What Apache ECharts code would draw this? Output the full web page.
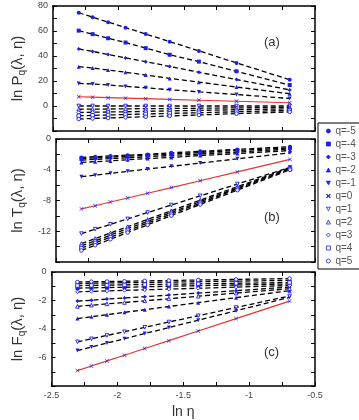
<!DOCTYPE html>
<html>
<head>
<meta charset="utf-8">
<script src="https://cdn.jsdelivr.net/npm/echarts@6/dist/echarts.min.js"></script>
<style>
  html, body { margin: 0; padding: 0; background: #fff; }
  #chart { width: 359px; height: 420px; }
</style>
</head>
<body>
<div id="chart"></div>
<script>
// ln(eta) sample points
const lnEta = [-2.303, -2.197, -2.079, -1.946, -1.792, -1.609, -1.386, -1.099, -0.693];
const qNames = ['q=-5', 'q=-4', 'q=-3', 'q=-2', 'q=-1', 'q=0', 'q=1', 'q=2', 'q=3', 'q=4', 'q=5'];

// panel (a): ln P_q, rows in q order -5..5
const lnP = [
  [74.6, 71.1, 67.1, 62.7, 57.6, 51.5, 44.1, 34.5, 21.0],
  [60.3, 57.5, 54.2, 50.8, 46.3, 41.0, 35.5, 27.8, 16.8],
  [45.6, 43.7, 41.2, 38.5, 35.5, 31.6, 27.0, 21.2, 12.9],
  [31.5, 30.4, 28.8, 27.0, 24.8, 22.1, 19.1, 15.2, 9.8],
  [18.1, 17.6, 16.8, 15.7, 14.6, 13.0, 11.3, 9.2, 6.0],
  [7.4, 7.1, 6.7, 6.3, 5.9, 5.3, 4.6, 3.8, 2.6],
  [0.0, 0.0, 0.0, 0.0, 0.0, 0.0, 0.0, 0.0, 0.0],
  [-2.6, -2.5, -2.4, -2.3, -2.1, -2.0, -1.8, -1.5, -1.1],
  [-5.2, -5.0, -4.8, -4.6, -4.3, -3.9, -3.5, -3.0, -2.3],
  [-7.8, -7.5, -7.2, -6.8, -6.4, -5.9, -5.4, -4.6, -3.5],
  [-10.4, -10.0, -9.6, -9.1, -8.6, -7.9, -7.2, -6.1, -4.7]
];

// panel (b): ln T_q
const lnT = [
  [-2.4, -2.3, -2.2, -2.1, -2.0, -1.8, -1.6, -1.35, -1.0],
  [-2.55, -2.45, -2.35, -2.25, -2.1, -1.95, -1.75, -1.5, -1.15],
  [-2.75, -2.65, -2.55, -2.45, -2.3, -2.15, -1.95, -1.7, -1.3],
  [-3.05, -2.95, -2.85, -2.7, -2.55, -2.4, -2.15, -1.9, -1.5],
  [-4.9, -4.7, -4.47, -4.21, -3.91, -3.56, -3.13, -2.58, -1.8],
  [-9.1, -8.68, -8.2, -7.67, -7.06, -6.32, -5.43, -4.28, -2.66],
  [-12.3, -11.73, -11.1, -10.39, -9.57, -8.59, -7.39, -5.86, -3.69],
  [-13.6, -12.95, -12.22, -11.4, -10.46, -9.33, -7.96, -6.2, -3.7],
  [-13.9, -13.24, -12.5, -11.66, -10.7, -9.55, -8.15, -6.35, -3.8],
  [-14.2, -13.52, -12.77, -11.92, -10.93, -9.76, -8.33, -6.49, -3.9],
  [-14.5, -13.81, -13.04, -12.17, -11.17, -9.97, -8.52, -6.65, -4.0]
];

// panel (c): ln F_q
const lnF = [
  [-0.80, -0.79, -0.77, -0.75, -0.73, -0.71, -0.68, -0.64, -0.59],
  [-1.13, -1.11, -1.09, -1.07, -1.04, -1.0, -0.96, -0.91, -0.84],
  [-2.04, -1.98, -1.9, -1.82, -1.73, -1.62, -1.48, -1.31, -1.06],
  [-3.27, -3.14, -3.0, -2.83, -2.65, -2.42, -2.15, -1.8, -1.31],
  [-5.51, -5.26, -4.99, -4.68, -4.32, -3.9, -3.38, -2.72, -1.78],
  [-6.92, -6.6, -6.24, -5.84, -5.37, -4.82, -4.14, -3.27, -2.04],
  [-4.9, -4.69, -4.45, -4.19, -3.88, -3.51, -3.07, -2.49, -1.68],
  [-2.41, -2.33, -2.24, -2.14, -2.02, -1.88, -1.70, -1.48, -1.17],
  [-1.39, -1.36, -1.33, -1.29, -1.25, -1.2, -1.14, -1.06, -0.95],
  [-0.95, -0.94, -0.92, -0.9, -0.88, -0.86, -0.83, -0.79, -0.74],
  [-0.70, -0.68, -0.67, -0.65, -0.62, -0.6, -0.56, -0.52, -0.46]
];

const BLUE = '#1e1ee6';
const triDown = 'path://M0,0L10,0L5,9Z';
const cross = 'path://M1,0L5,4L9,0L10,1L6,5L10,9L9,10L5,6L1,10L0,9L4,5L0,1Z';
const marks = [
  { symbol: 'circle', open: false },
  { symbol: 'rect', open: false },
  { symbol: 'diamond', open: false },
  { symbol: 'triangle', open: false },
  { symbol: triDown, open: false },
  { symbol: cross, open: false },
  { symbol: triDown, open: true },
  { symbol: 'triangle', open: true },
  { symbol: 'diamond', open: true },
  { symbol: 'rect', open: true },
  { symbol: 'circle', open: true }
];

const grids = [
  { left: 42, top: 6, width: 273, height: 125 },
  { left: 42, top: 139, width: 273, height: 123 },
  { left: 42, top: 272, width: 273, height: 123 }
];
const yRanges = [
  { min: -20, max: 80, interval: 10, step: 20, name: '{a|ln P}{s|q}{a|(λ, η)}' },
  { min: -16, max: 0, interval: 2, step: 4, name: '{a|ln T}{s|q}{a|(λ, η)}' },
  { min: -8, max: 0, interval: 1, step: 2, name: '{a|ln F}{s|q}{a|(λ, η)}' }
];
const panels = [lnP, lnT, lnF];

const tick = { show: true, inside: true, length: 4, lineStyle: { color: '#000', width: 1 } };
const line = { show: true, onZero: false, lineStyle: { color: '#000', width: 1.5 } };
const labelStyle = { color: '#444', fontSize: 9, fontFamily: 'Liberation Sans' };

const xAxis = [];
const yAxis = [];
grids.forEach((g, i) => {
  const last = i === 2;
  xAxis.push({
    type: 'value', gridIndex: i, position: 'bottom', min: -2.5, max: -0.5, interval: 0.25,
    axisLine: line, axisTick: tick, splitLine: { show: false },
    axisLabel: {
      show: last, ...labelStyle, margin: 5,
      formatter: (v) => (Math.abs(v * 2 - Math.round(v * 2)) < 1e-6 ? String(v) : '')
    },
    name: last ? 'ln η' : '', nameLocation: 'middle', nameGap: 19,
    nameTextStyle: { fontSize: 14, color: '#333', fontFamily: 'Liberation Sans' }
  });
  xAxis.push({
    type: 'value', gridIndex: i, position: 'top', min: -2.5, max: -0.5, interval: 0.25,
    axisLine: line, axisTick: tick, axisLabel: { show: false }, splitLine: { show: false }
  });
  const r = yRanges[i];
  yAxis.push({
    type: 'value', gridIndex: i, position: 'left', min: r.min, max: r.max, interval: r.interval,
    axisLine: line, axisTick: tick, splitLine: { show: false },
    axisLabel: {
      ...labelStyle, margin: 5,
      formatter: (v) => (v !== r.min && v % r.step === 0 ? String(v) : '')
    },
    name: r.name, nameLocation: 'middle', nameGap: 24, nameRotate: 90,
    nameTextStyle: {
      rich: {
        a: { fontSize: 15, color: '#333', fontFamily: 'Liberation Sans', lineHeight: 20 },
        s: { fontSize: 10, color: '#333', fontFamily: 'Liberation Sans', lineHeight: 20, padding: [9, 0, 0, 0] }
      }
    }
  });
  yAxis.push({
    type: 'value', gridIndex: i, position: 'right', min: r.min, max: r.max, interval: r.interval,
    axisLine: line, axisTick: tick, axisLabel: { show: false }, splitLine: { show: false }
  });
});

const series = [];
panels.forEach((rows, p) => {
  rows.forEach((vals, k) => {
    const m = marks[k];
    const isZero = k === 5;
    series.push({
      name: qNames[k],
      type: 'line',
      xAxisIndex: p * 2,
      yAxisIndex: p * 2,
      data: lnEta.map((x, j) => [x, vals[j]]),
      symbol: m.symbol,
      symbolSize: m.open ? 3.6 : 4,
      showAllSymbol: true,
      lineStyle: isZero
        ? { color: '#e8322c', width: 1.2, type: 'solid' }
        : { color: '#000', width: 1.3, type: [5, 3] },
      itemStyle: m.open
        ? { color: '#fff', borderColor: BLUE, borderWidth: 0.9 }
        : { color: BLUE, borderColor: BLUE, borderWidth: 0 },
      emphasis: { disabled: true },
      z: isZero ? 3 : 2
    });
  });
});

const chart = echarts.init(document.getElementById('chart'), null, { renderer: 'canvas' });
chart.setOption({
  animation: false,
  backgroundColor: '#fff',
  grid: grids,
  xAxis: xAxis,
  yAxis: yAxis,
  legend: {
    orient: 'vertical',
    left: 318,
    top: 123,
    data: qNames.map((n, k) => ({ name: n, icon: marks[k].symbol })),
    itemWidth: 4,
    itemHeight: 4,
    itemGap: 1,
    padding: [2, 5, 2, 8],
    borderColor: '#000',
    borderWidth: 1,
    itemStyle: { borderWidth: 0.8 },
    lineStyle: { width: 0, opacity: 0 },
    textStyle: { color: '#555', fontSize: 10, lineHeight: 12, fontFamily: 'Liberation Sans' },
    selectedMode: false
  },
  graphic: [
    { type: 'text', left: 264, top: 36, style: { text: '(a)', fontSize: 13, fill: '#333', fontFamily: 'Liberation Sans' } },
    { type: 'text', left: 264, top: 211, style: { text: '(b)', fontSize: 13, fill: '#333', fontFamily: 'Liberation Sans' } },
    { type: 'text', left: 264, top: 346, style: { text: '(c)', fontSize: 13, fill: '#333', fontFamily: 'Liberation Sans' } }
  ],
  series: series
});
</script>
</body>
</html>
